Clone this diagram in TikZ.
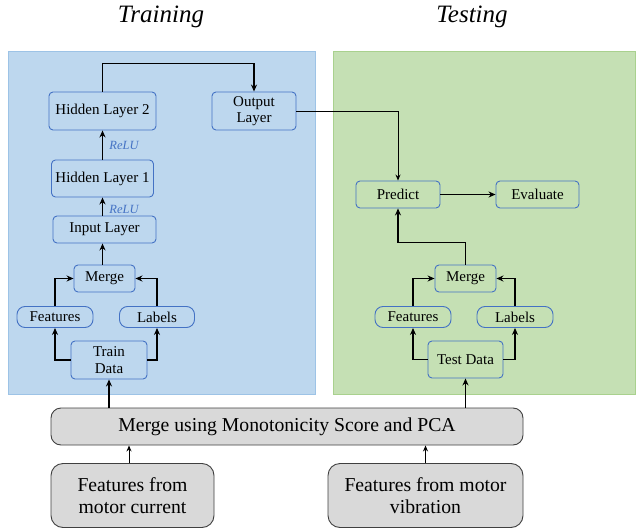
\documentclass[tikz,border=0pt]{standalone}
\usepackage{fontspec}
\setmainfont{Liberation Serif}
\usetikzlibrary{arrows.meta}
\definecolor{panelblue}{HTML}{BDD7EE}
\definecolor{panelblueedge}{HTML}{9DC3E6}
\definecolor{panelgreen}{HTML}{C5E0B4}
\definecolor{panelgreenedge}{HTML}{A9D18E}
\definecolor{nodeblue}{HTML}{4472C4}
\definecolor{greyfill}{HTML}{D9D9D9}
\definecolor{greyedge}{HTML}{404040}
\tikzset{
  nnbox/.style={draw=nodeblue, rounded corners=4pt, line width=0.9pt, inner sep=0pt,
    align=center, font=\fontsize{15}{16.5}\selectfont},
  greybox/.style={draw=greyedge, fill=greyfill, line width=0.9pt, inner sep=0pt,
    align=center, font=\fontsize{19.7}{21.5}\selectfont},
  arr/.style={-{Stealth[length=7pt,width=6pt]}, line width=1.3pt},
  thinarr/.style={-{Stealth[length=6pt,width=5pt]}, line width=0.9pt},
  relu/.style={text=nodeblue, font=\fontsize{12.5}{13}\selectfont\itshape},
  title/.style={font=\fontsize{25}{26}\selectfont\itshape}
}
\begin{document}
\begin{tikzpicture}[x=1pt,y=-1pt]
\useasboundingbox (0,0) rectangle (636,529);
% panels
\filldraw[fill=panelblue, draw=panelblueedge, line width=0.6pt] (8,51) rectangle (315,394);
\filldraw[fill=panelgreen, draw=panelgreenedge, line width=0.6pt] (333,51) rectangle (635,394);
% titles
\node[title] (ttrain) at (161,17) {Training};
\node[title] (ttest) at (472,17) {Testing};
% training nodes
\node[nnbox, minimum width=107pt, minimum height=38pt] (hl2) at (102.5,111) {Hidden Layer 2};
\node[nnbox, minimum width=84pt, minimum height=38pt] (out) at (254,111) {Output\\Layer};
\node[nnbox, minimum width=102pt, minimum height=37pt] (hl1) at (102.5,178.5) {Hidden Layer 1};
\node[nnbox, minimum width=103pt, minimum height=27pt] (inp) at (104.5,229.5) {Input Layer};
\node[nnbox, minimum width=61pt, minimum height=27pt] (merge) at (104.5,278.5) {Merge};
\node[nnbox, minimum width=76pt, minimum height=21pt, rounded corners=8pt] (feat) at (55,317) {Features};
\node[nnbox, minimum width=75pt, minimum height=21pt, rounded corners=8pt] (lab) at (157,317) {Labels};
\node[nnbox, minimum width=76pt, minimum height=38pt] (train) at (109,360) {Train\\Data};
\node[relu] (relu2) at (124,145) {ReLU};
\node[relu] (relu1) at (124,209) {ReLU};
% testing nodes
\node[nnbox, minimum width=84pt, minimum height=27pt] (pred) at (398,194.5) {Predict};
\node[nnbox, minimum width=83pt, minimum height=27pt] (eval) at (537.5,194.5) {Evaluate};
\node[nnbox, minimum width=61pt, minimum height=27pt] (tmerge) at (465.5,278.5) {Merge};
\node[nnbox, minimum width=76pt, minimum height=21pt, rounded corners=8pt] (tfeat) at (413,317) {Features};
\node[nnbox, minimum width=76pt, minimum height=21pt, rounded corners=8pt] (tlab) at (515,317) {Labels};
\node[nnbox, minimum width=75pt, minimum height=37pt] (test) at (465.5,359.5) {Test Data};
% grey nodes
\node[greybox, rounded corners=10pt, minimum width=472pt, minimum height=37pt] (pca) at (287,426.5) {Merge using Monotonicity Score and PCA};
\node[greybox, rounded corners=12pt, minimum width=163pt, minimum height=64pt] (cur) at (132.5,495.5) {Features from\\motor current};
\node[greybox, rounded corners=12pt, minimum width=195pt, minimum height=64pt] (vib) at (425.5,495.5) {Features from motor\\vibration};
% training connectors
\draw[arr] (hl2.north) -- ++(0,-28) -| (out.north);
\draw[arr] (hl1) -- (hl2);
\draw[arr] (hl1.south |- inp.north) -- (hl1.south);
\draw[arr] (merge.north -| hl1.south) -- (inp.south -| hl1.south);
\draw[arr] (feat.north) |- (merge.west);
\draw[arr] (lab.north) |- (merge.east);
\draw[arr] (train.west) -| (feat.south);
\draw[arr] (train.east) -| (lab.south);
\draw[arr] (pca.north -| train.south) -- (train.south);
% testing connectors
\draw[thinarr] (out.east) -| (pred.north);
\draw[arr] (pred) -- (eval);
\draw[arr] (tmerge.north) -- ++(0,-22) -| (pred.south);
\draw[arr] (tfeat.north) |- (tmerge.west);
\draw[arr] (tlab.north) |- (tmerge.east);
\draw[arr] (test.west) -| (tfeat.south);
\draw[arr] (test.east) -| (tlab.south);
\draw[arr] (pca.north -| test.south) -- (test.south);
% bottom connectors
\draw[thinarr] (cur.north -| 129,0) -- (pca.south -| 129,0);
\draw[thinarr] (vib.north) -- (pca.south -| vib.north);
\end{tikzpicture}
\end{document}
